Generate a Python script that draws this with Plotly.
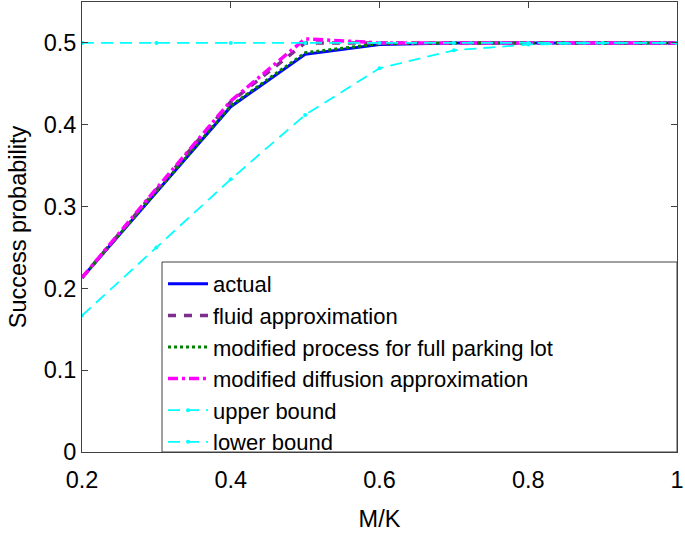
import plotly.graph_objects as go

mk = [0.2, 0.3, 0.4, 0.5, 0.6, 0.7, 0.8, 0.9, 1.0]
actual = [0.213, 0.318, 0.422, 0.486, 0.498, 0.5, 0.5, 0.5, 0.5]
fluid = [0.213, 0.321, 0.428, 0.5, 0.5, 0.5, 0.5, 0.5, 0.5]
modified_process = [0.213, 0.318, 0.423, 0.488, 0.499, 0.5, 0.5, 0.5, 0.5]
modified_diffusion = [0.213, 0.322, 0.429, 0.505, 0.5, 0.5, 0.5, 0.5, 0.5]
upper_bound = [0.5, 0.5, 0.5, 0.5, 0.5, 0.5, 0.5, 0.5, 0.5]
lower_bound = [0.1667, 0.25, 0.3333, 0.412, 0.469, 0.491, 0.498, 0.5, 0.5]

FONT = "Liberation Sans, Arial, sans-serif"

fig = go.Figure()
fig.add_trace(go.Scatter(x=mk, y=actual, mode="lines", name="actual",
                         line=dict(color="#0000FF", width=3)))
fig.add_trace(go.Scatter(x=mk, y=fluid, mode="lines", name="fluid approximation",
                         line=dict(color="#7E2F8E", width=3.5, dash="8px,8px")))
fig.add_trace(go.Scatter(x=mk, y=modified_process, mode="lines",
                         name="modified process for full parking lot",
                         line=dict(color="#008000", width=3, dash="dot")))
fig.add_trace(go.Scatter(x=mk, y=modified_diffusion, mode="lines",
                         name="modified diffusion approximation",
                         line=dict(color="#FF00FF", width=3.5, dash="10px,4px,3px,4px")))
fig.add_trace(go.Scatter(x=mk, y=upper_bound, mode="lines+markers", name="upper bound",
                         line=dict(color="#00FFFF", width=1.8, dash="12px,7px"),
                         marker=dict(color="#00FFFF", size=4)))
fig.add_trace(go.Scatter(x=mk, y=lower_bound, mode="lines+markers", name="lower bound",
                         line=dict(color="#00FFFF", width=1.8, dash="12px,7px"),
                         marker=dict(color="#00FFFF", size=4)))

axis_common = dict(showline=True, linecolor="#404040", linewidth=1, mirror="ticks",
                   ticks="inside", ticklen=6, tickcolor="#404040", showgrid=False,
                   zeroline=False, automargin=False,
                   tickfont=dict(family=FONT, size=23.5, color="#000"))

fig.update_xaxes(range=[0.2, 1.0], tickvals=[0.2, 0.4, 0.6, 0.8, 1.0],
                 ticktext=["0.2", "0.4", "0.6", "0.8", "1"], ticklabelstandoff=7,
                 title=dict(text="M/K", font=dict(family=FONT, size=23.5, color="#000"), standoff=18),
                 **axis_common)
fig.update_yaxes(range=[0, 0.55], tickvals=[0, 0.1, 0.2, 0.3, 0.4, 0.5],
                 ticktext=["0", "0.1", "0.2", "0.3", "0.4", "0.5"],
                 title=dict(text="Success probability", font=dict(family=FONT, size=23.5, color="#000"), standoff=10),
                 **axis_common)

fig.add_shape(type="rect", xref="paper", yref="paper", x0=(162-82)/595, x1=1.0,
              y0=0, y1=(452-262)/450, line=dict(color="#404040", width=1),
              fillcolor="white", layer="above")

fig.update_layout(
    width=685, height=537,
    margin=dict(l=82, r=8, t=2, b=85),
    paper_bgcolor="white", plot_bgcolor="white",
    legend=dict(x=(163-82)/595, y=(452-263)/450, xanchor="left", yanchor="top",
                bgcolor="rgba(0,0,0,0)", borderwidth=0,
                font=dict(family=FONT, size=22, color="#000"),
                tracegroupgap=0, itemwidth=40),
    showlegend=True,
)

fig.write_html("out.html", config={"displayModeBar": False},
               post_script="document.body.style.margin='0';document.body.style.overflow='hidden';")
